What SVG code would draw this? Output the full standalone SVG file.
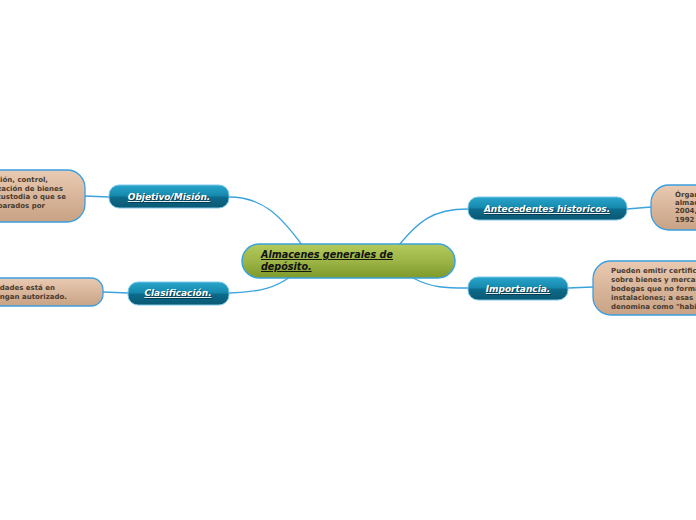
<svg xmlns="http://www.w3.org/2000/svg" width="696" height="520" viewBox="0 0 696 520">
<defs>
<linearGradient id="gBlue" x1="0" y1="0" x2="0" y2="1">
<stop offset="0" stop-color="#2aa5cc"/>
<stop offset="0.45" stop-color="#168aae"/>
<stop offset="0.55" stop-color="#0c6a8a"/>
<stop offset="1" stop-color="#0a5872"/>
</linearGradient>
<linearGradient id="gGreen" x1="0" y1="0" x2="0" y2="1">
<stop offset="0" stop-color="#b4ca5c"/>
<stop offset="0.5" stop-color="#9cb546"/>
<stop offset="1" stop-color="#7e9a2a"/>
</linearGradient>
<linearGradient id="gTan" x1="0" y1="0" x2="0" y2="1">
<stop offset="0" stop-color="#e9cab2"/>
<stop offset="1" stop-color="#c8a284"/>
</linearGradient>
<style>
.conn{fill:none;stroke:#3aa3dd;stroke-width:1.3}
.branch{fill:url(#gBlue);stroke:#7cc8ea;stroke-width:1}
.central{fill:url(#gGreen);stroke:#3aa3dd;stroke-width:1.5}
.leaf{fill:url(#gTan);stroke:#3a9ee0;stroke-width:1.3}
.bt{font-family:"DejaVu Sans",Verdana,sans-serif;font-weight:bold;font-style:italic;font-size:9px;fill:#ffffff;text-decoration:underline;text-anchor:middle}
.bs{font-family:"DejaVu Sans",Verdana,sans-serif;font-weight:bold;font-style:italic;font-size:9px;fill:#06394d;text-decoration:underline;text-anchor:middle}
.ct{font-family:"DejaVu Sans",Verdana,sans-serif;font-weight:bold;font-style:italic;font-size:9.6px;fill:#111111;text-decoration:underline}
.lt{font-family:"DejaVu Sans",Verdana,sans-serif;font-weight:bold;font-size:7px;fill:#4a3a2e}
</style>
</defs>
<rect width="696" height="520" fill="#ffffff"/>
<g id="connectors">
<path class="conn" d="M229,197 C262,197 280,215 302,245"/>
<path class="conn" d="M229,293 C262,292 276,287 290,277"/>
<path class="conn" d="M468,209 C432,209 418,222 399,245"/>
<path class="conn" d="M413,278 C432,288 446,288 468,288"/>
<path class="conn" d="M109,197 L85,196"/>
<path class="conn" d="M128,293 L103,292"/>
<path class="conn" d="M627,209 L651,207"/>
<path class="conn" d="M568,288 L593,287"/>
</g>
<g id="central">
<rect class="central" x="242" y="244" width="213" height="34" rx="17"/>
<text class="ct" x="261" y="258">Almacenes generales de </text>
<text class="ct" x="261" y="270">depósito.</text>
</g>
<g id="objetivo">
<rect class="branch" x="109" y="185" width="120" height="23" rx="10"/>
<text class="bs" x="170" y="201">Objetivo/Misión.</text>
<text class="bt" x="169" y="200">Objetivo/Misión.</text>
</g>
<g id="clasificacion">
<rect class="branch" x="128" y="282" width="101" height="23" rx="10"/>
<text class="bs" x="179" y="297">Clasificación.</text>
<text class="bt" x="178" y="296">Clasificación.</text>
</g>
<g id="antecedentes">
<rect class="branch" x="468" y="197" width="159" height="23" rx="10"/>
<text class="bs" x="548" y="213">Antecedentes historicos.</text>
<text class="bt" x="547" y="212">Antecedentes historicos.</text>
</g>
<g id="importancia">
<rect class="branch" x="468" y="277" width="100" height="23" rx="10"/>
<text class="bs" x="519" y="293">Importancia.</text>
<text class="bt" x="518" y="292">Importancia.</text>
</g>
<g id="leaf-objetivo">
<rect class="leaf" x="-60" y="170" width="145" height="52" rx="18"/>
<text class="lt" x="48" y="182" text-anchor="end">ción, control,</text>
<text class="lt" x="63" y="191" text-anchor="end">zación de bienes</text>
<text class="lt" x="66" y="199" text-anchor="end">custodia o que se</text>
<text class="lt" x="45" y="208" text-anchor="end">parados por</text>
</g>
<g id="leaf-clasificacion">
<rect class="leaf" x="-60" y="278" width="163" height="28" rx="12"/>
<text class="lt" x="55" y="290" text-anchor="end">dades está en</text>
<text class="lt" x="67" y="299" text-anchor="end">ngan autorizado.</text>
</g>
<g id="leaf-antecedentes">
<rect class="leaf" x="651" y="185" width="120" height="45" rx="18"/>
<text class="lt" x="675" y="197">Órgan</text>
<text class="lt" x="675" y="205">almac</text>
<text class="lt" x="675" y="213">2004,</text>
<text class="lt" x="675" y="222">1992</text>
</g>
<g id="leaf-importancia">
<rect class="leaf" x="593" y="261" width="160" height="54" rx="18"/>
<text class="lt" x="611" y="273">Pueden emitir certific</text>
<text class="lt" x="611" y="282">sobre bienes y mercan</text>
<text class="lt" x="611" y="291">bodegas que no forma</text>
<text class="lt" x="611" y="300">instalaciones; a esas</text>
<text class="lt" x="611" y="309">denomina como "habi</text>
</g>
</svg>
